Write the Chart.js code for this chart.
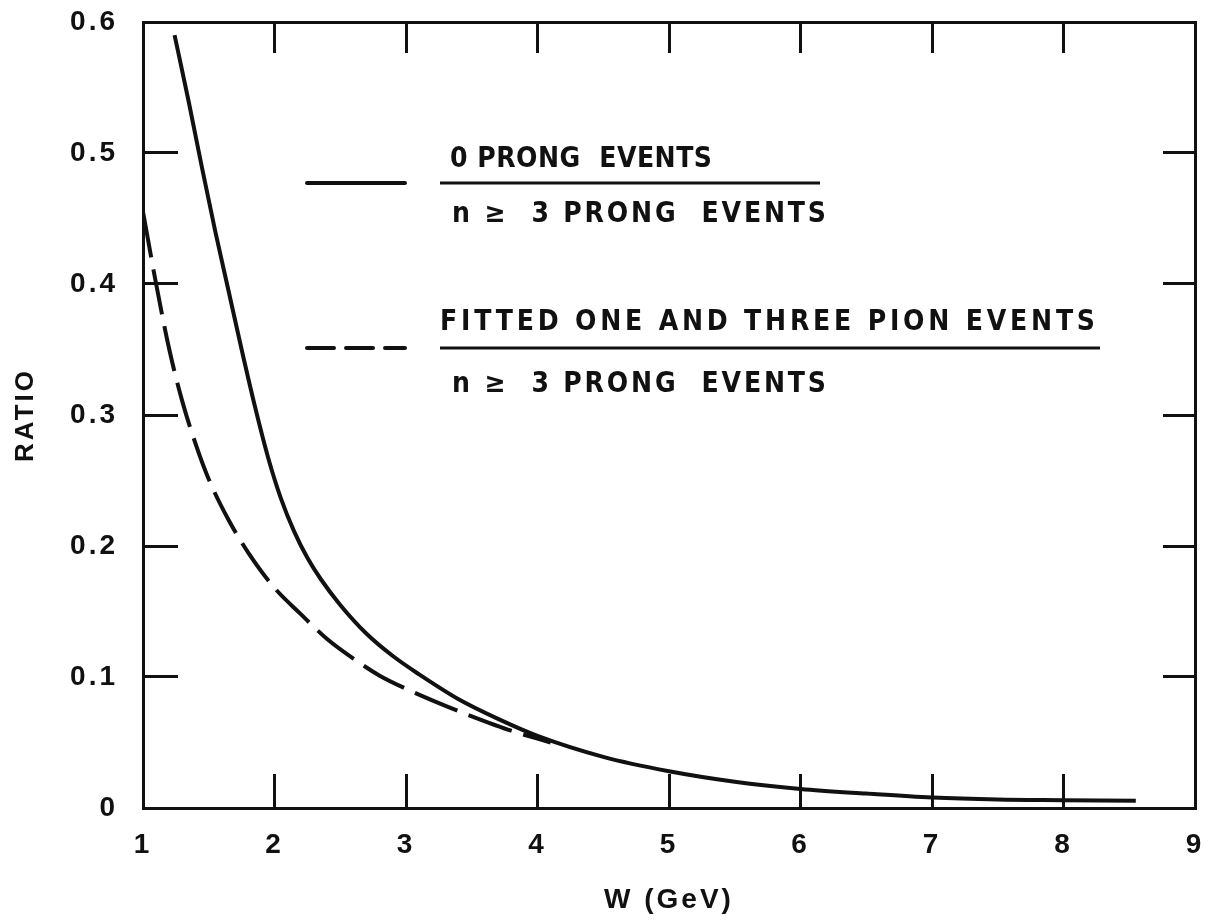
<!DOCTYPE html>
<html>
<head>
<meta charset="utf-8">
<script src="https://cdn.jsdelivr.net/npm/chart.js@4.4.1/dist/chart.umd.min.js"></script>
<style>
  html, body { margin: 0; padding: 0; background: #ffffff; }
  canvas { display: block; }
</style>
</head>
<body>
<canvas id="ratioChart" width="1209" height="923"></canvas>
<script>
// Solid curve: (0 prong events) / (n >= 3 prong events) versus W
const wZeroProng = [1.24, 1.35, 1.45, 1.55, 1.65, 1.75, 1.85, 1.95, 2.05, 2.15, 2.25, 2.35, 2.50, 2.70, 2.90, 3.10, 3.40, 3.70, 4.00, 4.50, 5.00, 5.50, 6.00, 6.50, 7.00, 7.50, 8.00, 8.55];
const ratioZeroProng = [0.590, 0.538, 0.488, 0.440, 0.395, 0.350, 0.307, 0.268, 0.236, 0.211, 0.191, 0.175, 0.155, 0.133, 0.116, 0.102, 0.083, 0.068, 0.055, 0.039, 0.028, 0.020, 0.0145, 0.011, 0.008, 0.0065, 0.006, 0.0055];

// Dashed curve: (fitted one and three pion events) / (n >= 3 prong events)
const wFitted = [1.00, 1.10, 1.20, 1.30, 1.40, 1.50, 1.65, 1.80, 2.00, 2.20, 2.40, 2.60, 2.80, 3.00, 3.25, 3.50, 3.80, 4.10];
const ratioFitted = [0.455, 0.400, 0.350, 0.310, 0.278, 0.251, 0.220, 0.195, 0.168, 0.148, 0.129, 0.114, 0.101, 0.091, 0.080, 0.070, 0.059, 0.050];

// Axis ticks
const wTicks = [1, 2, 3, 4, 5, 6, 7, 8, 9];
const ratioTicks = [0, 0.1, 0.2, 0.3, 0.4, 0.5, 0.6];

// Legend fractions
const legendNumerators = ['0 PRONG  EVENTS', 'FITTED ONE AND THREE PION EVENTS'];
const legendDenominators = ['n \u2265  3 PRONG  EVENTS', 'n \u2265  3 PRONG  EVENTS'];

const ink = '#111111';
const labelFamily = '"Liberation Sans", Arial, sans-serif';
const legendFamily = '"Liberation Sans Narrow", "DejaVu Sans Condensed", "Liberation Sans", sans-serif';

function fixedTicks(values) {
  return scale => { scale.ticks = values.map(v => ({ value: v })); };
}

// Fix an axis box to an exact size and drop the label overhang padding
function fixedBox(prop, size) {
  return scale => {
    scale[prop] = size;
    scale.paddingLeft = 0;
    scale.paddingRight = 0;
    scale.paddingTop = 0;
    scale.paddingBottom = 0;
  };
}

function frameGrid(len) {
  return { drawOnChartArea: false, drawTicks: true, tickLength: len, lineWidth: 3, color: ink };
}
const frameBorder = { display: true, width: 3, color: ink };

// Spread a string so that it spans a given width
function spacedText(ctx, text, x, y, width) {
  ctx.letterSpacing = '0px';
  const natural = ctx.measureText(text).width;
  const n = Array.from(text).length;
  const gap = n > 1 ? (width - natural) / (n - 1) : 0;
  ctx.letterSpacing = gap + 'px';
  ctx.fillText(text, x, y);
  ctx.letterSpacing = '0px';
}

const wideLettering = {
  id: 'wideLettering',
  beforeDraw(chart) { chart.ctx.letterSpacing = '3px'; }
};

const fractionLegend = {
  id: 'fractionLegend',
  afterDatasetsDraw(chart, args, opts) {
    const ctx = chart.ctx;
    ctx.save();
    ctx.fillStyle = ink;
    ctx.strokeStyle = ink;
    ctx.font = 'bold ' + opts.fontSize + 'px ' + legendFamily;
    ctx.textAlign = 'left';
    ctx.textBaseline = 'alphabetic';
    opts.entries.forEach((e, i) => {
      const ds = chart.data.datasets[i];
      ctx.lineWidth = 4;
      ctx.lineCap = 'round';
      ctx.setLineDash(ds.borderDash ? opts.sampleDash : []);
      ctx.beginPath();
      ctx.moveTo(opts.sampleLeft, e.y);
      ctx.lineTo(opts.sampleRight, e.y);
      ctx.stroke();
      ctx.setLineDash([]);
      ctx.lineWidth = 3;
      ctx.lineCap = 'butt';
      ctx.beginPath();
      ctx.moveTo(opts.barLeft, e.y);
      ctx.lineTo(e.barRight, e.y);
      ctx.stroke();
      spacedText(ctx, legendNumerators[i], e.numLeft, e.y - e.numRise, e.numWidth);
      spacedText(ctx, legendDenominators[i], opts.denLeft, e.y + e.denDrop, opts.denWidth);
    });
    ctx.restore();
  }
};

const tickFont = { family: labelFamily, size: 28, weight: 'bold' };

new Chart(document.getElementById('ratioChart'), {
  type: 'scatter',
  data: {
    datasets: [
      {
        label: legendNumerators[0],
        data: wZeroProng.map((w, i) => ({ x: w, y: ratioZeroProng[i] })),
        showLine: true,
        borderColor: ink,
        borderWidth: 4,
        pointRadius: 0,
        cubicInterpolationMode: 'monotone',
        fill: false
      },
      {
        label: legendNumerators[1],
        data: wFitted.map((w, i) => ({ x: w, y: ratioFitted[i] })),
        showLine: true,
        borderColor: ink,
        borderWidth: 4,
        borderDash: [46, 12],
        pointRadius: 0,
        cubicInterpolationMode: 'monotone',
        fill: false
      }
    ]
  },
  options: {
    responsive: false,
    animation: false,
    devicePixelRatio: 1,
    layout: { padding: 0, autoPadding: false },
    events: [],
    plugins: {
      legend: { display: false },
      tooltip: { enabled: false },
      fractionLegend: {
        fontSize: 28,
        sampleLeft: 307,
        sampleRight: 405,
        sampleDash: [27, 12],
        barLeft: 440,
        denLeft: 452,
        denWidth: 374,
        entries: [
          { y: 183, barRight: 820, numLeft: 450, numWidth: 262, numRise: 16, denDrop: 39 },
          { y: 348, barRight: 1100, numLeft: 440, numWidth: 655, numRise: 18, denDrop: 44 }
        ]
      }
    },
    scales: {
      x: {
        type: 'linear', position: 'bottom', min: 1, max: 9,
        afterBuildTicks: fixedTicks(wTicks),
        afterFit: fixedBox('height', 115),
        grid: frameGrid(-34),
        border: frameBorder,
        ticks: { color: ink, font: tickFont, padding: 54, maxRotation: 0, autoSkip: false },
        title: { display: true, text: 'W (GeV)', color: ink, font: { family: labelFamily, size: 28, weight: 'bold' }, padding: { top: 0, bottom: 6 } }
      },
      y: {
        type: 'linear', position: 'left', min: 0, max: 0.6,
        afterBuildTicks: fixedTicks(ratioTicks),
        afterFit: fixedBox('width', 143),
        grid: frameGrid(-35),
        border: frameBorder,
        ticks: { color: ink, font: tickFont, padding: 60, autoSkip: false, callback: v => (v === 0 ? '0' : v.toFixed(1)) },
        title: { display: true, text: 'RATIO', color: ink, font: { family: labelFamily, size: 26, weight: 'bold' }, padding: { top: 10, bottom: 0 } }
      },
      xTop: {
        axis: 'x', type: 'linear', position: 'top', min: 1, max: 9,
        afterBuildTicks: fixedTicks(wTicks),
        afterFit: fixedBox('height', 22),
        grid: frameGrid(-31),
        border: frameBorder,
        ticks: { display: false }
      },
      yRight: {
        axis: 'y', type: 'linear', position: 'right', min: 0, max: 0.6,
        afterBuildTicks: fixedTicks(ratioTicks),
        afterFit: fixedBox('width', 14),
        grid: frameGrid(-32),
        border: frameBorder,
        ticks: { display: false }
      }
    }
  },
  plugins: [wideLettering, fractionLegend]
});
</script>
</body>
</html>
